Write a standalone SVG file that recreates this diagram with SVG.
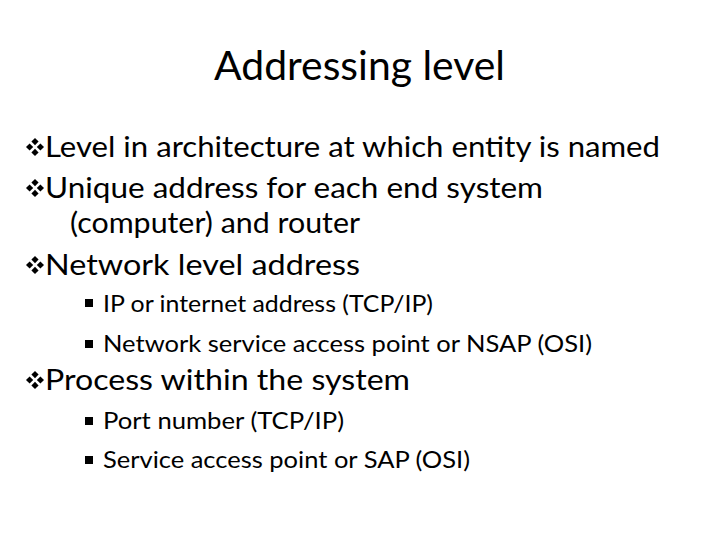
<svg xmlns="http://www.w3.org/2000/svg" xmlns:xlink="http://www.w3.org/1999/xlink" width="720" height="540" viewBox="0 0 720 540">
<style>
text{font-family:Lato,"Open Sans","Liberation Sans",sans-serif;fill:#000}
.t{font-size:40px}
.l1{font-size:28px}
.l2{font-size:24px}
.b{fill:#000}
</style>
<defs>
<g id="dia">
<polygon points="0,-9 3.6,-5.4 0,-1.8 -3.6,-5.4"/>
<polygon points="-5.4,-3.6 -1.8,0 -5.4,3.6 -9,0"/>
<polygon points="5.4,-3.6 9,0 5.4,3.6 1.8,0"/>
<polygon points="0,1.8 3.6,5.4 0,9 -3.6,5.4"/>
</g>
<rect id="sq" width="8" height="8"/>
</defs>
<rect width="720" height="540" fill="#fff"/>
<g id="title"><text class="t" x="214" y="80" textLength="291" lengthAdjust="spacingAndGlyphs">Addressing level</text></g>
<g id="bullets" class="b">
<use xlink:href="#dia" x="35" y="147"/>
<use xlink:href="#dia" x="35" y="188"/>
<use xlink:href="#dia" x="35" y="265"/>
<use xlink:href="#dia" x="35" y="380"/>
<use xlink:href="#sq" x="85" y="299"/>
<use xlink:href="#sq" x="85" y="340"/>
<use xlink:href="#sq" x="85" y="417"/>
<use xlink:href="#sq" x="85" y="456"/>
</g>
<g id="body">
<text class="l1" x="45" y="157" textLength="615" lengthAdjust="spacingAndGlyphs">Level in architecture at which entity is named</text>
<text class="l1" x="45" y="198" textLength="498" lengthAdjust="spacingAndGlyphs">Unique address for each end system</text>
<text class="l1" x="70" y="233" textLength="290" lengthAdjust="spacingAndGlyphs">(computer) and router</text>
<text class="l1" x="45" y="275" textLength="315" lengthAdjust="spacingAndGlyphs">Network level address</text>
<text class="l2" x="103" y="312" textLength="330" lengthAdjust="spacingAndGlyphs">IP or internet address (TCP/IP)</text>
<text class="l2" x="103" y="352" textLength="489" lengthAdjust="spacingAndGlyphs">Network service access point or NSAP (OSI)</text>
<text class="l1" x="45" y="390" textLength="365" lengthAdjust="spacingAndGlyphs">Process within the system</text>
<text class="l2" x="103" y="429" textLength="241" lengthAdjust="spacingAndGlyphs">Port number (TCP/IP)</text>
<text class="l2" x="103" y="468" textLength="367" lengthAdjust="spacingAndGlyphs">Service access point or SAP (OSI)</text>
</g>
</svg>
